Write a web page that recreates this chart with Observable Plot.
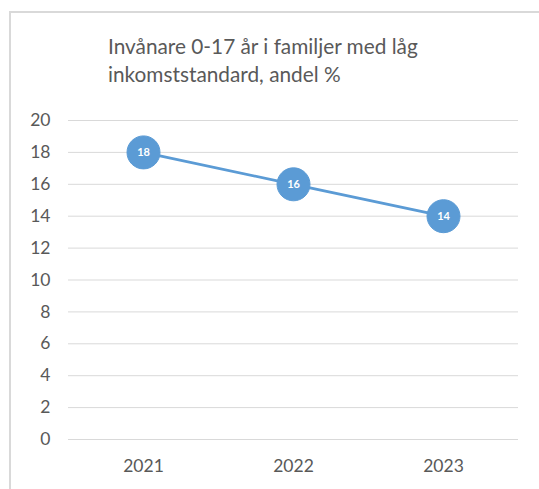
<!DOCTYPE html>
<html>
<head>
<meta charset="utf-8">
<script src="https://cdn.jsdelivr.net/npm/d3@7"></script>
<script src="https://cdn.jsdelivr.net/npm/@observablehq/plot@0.6"></script>
<style>
  html, body { margin: 0; padding: 0; background: #fff; }
  #wrap { position: relative; width: 539px; height: 489px; overflow: hidden; }
  #frame { position: absolute; left: 9px; top: 11px; right: -5px; bottom: -5px; border-left: 2px solid #d9d9d9; border-top: 2px solid #d9d9d9; }
  #title { position: absolute; left: 108px; top: 32px; font-family: "Lato", "Open Sans", sans-serif; font-size: 20.8px; line-height: 28px; color: #595959; }
  #chart { position: absolute; left: 0; top: 0; }
</style>
</head>
<body>
<div id="wrap">
  <div id="frame"></div>
  <div id="chart"></div>
  <div id="title">Invånare 0-17 år i familjer med låg<br>inkomststandard, andel %</div>
</div>
<script>
const years = ["2021", "2022", "2023"];
const values = [18, 16, 14];
const yTicks = [0, 2, 4, 6, 8, 10, 12, 14, 16, 18, 20];

const data = years.map((y, i) => ({ year: y, value: values[i] }));

const chart = Plot.plot({
  width: 539,
  height: 489,
  marginLeft: 68,
  marginRight: 21,
  marginTop: 120,
  marginBottom: 50,
  style: { fontFamily: "Lato, 'Open Sans', sans-serif", fontSize: "17.5px", color: "#595959", background: "transparent" },
  x: { type: "point", domain: years, padding: 0.5, label: null },
  y: { domain: [0, 20], ticks: yTicks, label: null },
  marks: [
    Plot.gridY(yTicks, { stroke: "#d9d9d9", strokeOpacity: 1, strokeWidth: 1 }),
    Plot.axisY(yTicks, { tickSize: 0, tickPadding: 18, label: null, fill: "#595959", fontSize: 17.5 }),
    Plot.axisX({ tickSize: 0, tickPadding: 20, label: null, fill: "#595959", fontSize: 17.5 }),
    Plot.line(data, { x: "year", y: "value", stroke: "#5b9bd5", strokeWidth: 2.8 }),
    Plot.dot(data, { x: "year", y: "value", r: 16.5, fill: "#5b9bd5", stroke: "#5b9bd5", strokeWidth: 1 }),
    Plot.text(data, { x: "year", y: "value", text: d => String(d.value), fill: "white", fontSize: 11, fontWeight: "bold" })
  ]
});
document.getElementById("chart").appendChild(chart);
</script>
</body>
</html>
